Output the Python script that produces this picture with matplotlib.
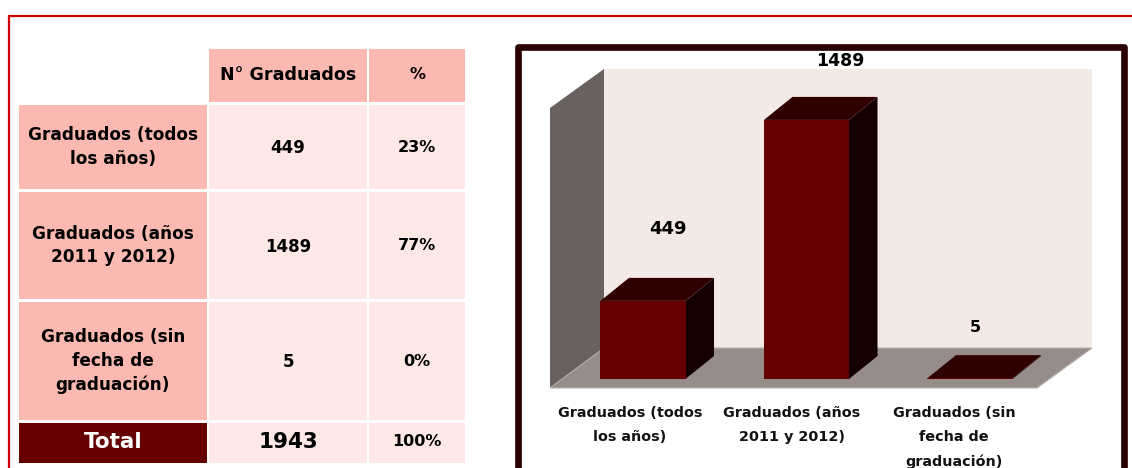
import matplotlib
matplotlib.use("Agg")
import matplotlib.pyplot as plt
from matplotlib.patches import Polygon, Rectangle

categories = ["Graduados (todos\nlos años)", "Graduados (años\n2011 y 2012)", "Graduados (sin\nfecha de\ngraduación)"]
values = [449, 1489, 5]
percents = ["23%", "77%", "0%"]
total_value = "1943"
total_pct = "100%"
header = ["N° Graduados", "%"]

W, H = 1132, 468
plt.rcParams['font.family'] = ['DejaVu Sans']
fig = plt.figure(figsize=(W / 100, H / 100), dpi=100, facecolor="white")
bg = fig.add_axes([0, 0, 1, 1])
bg.set_xlim(0, W)
bg.set_ylim(H, 0)
bg.axis("off")

RED = "#CC0000"
bg.plot([1132, 8.5, 8.5], [15.5, 15.5, 468], color=RED, lw=1.6, solid_joinstyle="miter")

# table
HEAD, CELL, DARK = "#FBB9B1", "#FEE8E5", "#660000"
x_lab, x_num, x_pct = (19, 207), (209, 367), (369, 465)
rows = [(105, 189), (192, 299), (302, 420)]
y_head, y_tot = (49, 102), (423, 463)

def box(xr, yr, color):
    bg.add_patch(Rectangle((xr[0], yr[0]), xr[1] - xr[0], yr[1] - yr[0], fc=color, ec="none"))

def label(xr, yr, s, size=11, color="black", dy=0, ls=1.38):
    bg.text(sum(xr) / 2, sum(yr) / 2 + dy, s, ha="center", va="center", fontsize=size,
            fontweight="bold", color=color, linespacing=ls)

box(x_num, y_head, HEAD)
box(x_pct, y_head, HEAD)
label(x_num, y_head, header[0], 12.6, dy=-1)
label(x_pct, y_head, header[1], 11.5, dy=-1)
for r, lab, v, p in zip(rows, categories, values, percents):
    box(x_lab, r, HEAD)
    box(x_num, r, CELL)
    box(x_pct, r, CELL)
    label(x_lab, r, lab, 12.2)
    label(x_num, r, str(v), 12, dy=1)
    label(x_pct, r, p, 11.5)
box(x_lab, y_tot, DARK)
box(x_num, y_tot, CELL)
box(x_pct, y_tot, CELL)
label(x_lab, y_tot, "Total", 15.5, "white", dy=-1)
label(x_num, y_tot, total_value, 15.5, dy=-1)
label(x_pct, y_tot, total_pct, 11.5, dy=-1)

# chart frame
FRAME = "#2A0000"
bg.add_patch(Rectangle((518, 46.5), 606, 430, fc="white", ec=FRAME, lw=4.8, joinstyle="round"))

# 3D room
bg.add_patch(Polygon([(604, 69), (1092, 69), (1092, 348), (604, 348)], fc="#F4EAE5", ec="none"))
bg.add_patch(Polygon([(550, 108), (604, 69), (604, 348), (550, 388)], fc="#696060", ec="none"))
bg.add_patch(Polygon([(550, 388), (604, 348), (1092, 348), (1037, 388)], fc="#968D8A", ec="#B5AFAC", lw=0.8))

# bars, drawn on a value scale
base_px = 379
px_per_unit = 0.174
x0_px, step_px = 643, 163.5
ax = fig.add_axes([0, 0, 1, 1], facecolor="none")
ax.axis("off")
ax.set_xlim((0 - x0_px) / step_px, (W - x0_px) / step_px)
ax.set_ylim((base_px - H) / px_per_unit, base_px / px_per_unit)
bw = 0.52
dx, dy = 28.5 / step_px, 23 / px_per_unit
xs = range(len(values))
ax.bar(xs, values, width=bw, color="#660000", zorder=3)
for x, v in zip(xs, values):
    l, r = x - bw / 2, x + bw / 2
    ax.add_patch(Polygon([(r, 0), (r + dx, dy), (r + dx, v + dy), (r, v)], fc="#140000", ec="none", zorder=2))
    ax.add_patch(Polygon([(l, v), (r, v), (r + dx, v + dy), (l + dx, v + dy)], fc="#300000", ec="none", zorder=2))

value_y_px = [229, 61, 328]
value_dx_px = [25, 34, 5]
for x, v, yp, ox, fs in zip(xs, values, value_y_px, value_dx_px, [13, 12.5, 11.5]):
    ax.text(x + ox / step_px, (base_px - yp) / px_per_unit, str(v), ha="center", va="center",
            fontsize=fs, fontweight="bold", color="black", zorder=5)

cat_x_px = [630, 792, 954]
cat_y_px = 406
for cx, c in zip(cat_x_px, categories):
    bg.text(cx, cat_y_px, c, ha="center", va="top", fontsize=10.4, fontweight="bold",
            linespacing=1.9, color="#111111", clip_on=True)

fig.savefig("out.png", dpi=100, facecolor="white")
